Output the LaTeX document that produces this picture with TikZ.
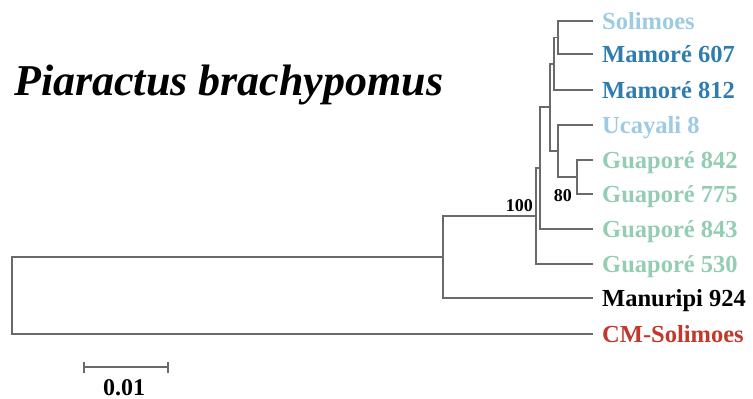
\documentclass[tikz,border=0pt]{standalone}
\usepackage{fontspec}
\setmainfont{Liberation Serif}
\definecolor{lblue}{HTML}{9CCBE3}
\definecolor{dblue}{HTML}{2E7DAE}
\definecolor{lgreen}{HTML}{94CDB3}
\definecolor{cmred}{HTML}{C0392B}
\definecolor{branch}{HTML}{6A6A6A}
\begin{document}
\begin{tikzpicture}[x=1pt,y=-1pt,
  br/.style={draw=branch,line width=1.5pt,line cap=rect},
  leaf/.style={anchor=base west,inner sep=0pt,font=\fontsize{24.5}{24.5}\selectfont\bfseries},
  boot/.style={anchor=base east,inner sep=0pt,font=\fontsize{18}{18}\selectfont\bfseries}]
\useasboundingbox (0,0) rectangle (753,399);
% tips
\coordinate (tSol) at (592,21);
\coordinate (tM607) at (592,54);
\coordinate (tM812) at (592,90);
\coordinate (tUca) at (592,125);
\coordinate (tG842) at (592,160);
\coordinate (tG775) at (592,194);
\coordinate (tG843) at (592,229);
\coordinate (tG530) at (592,264);
\coordinate (tMan) at (592,298);
\coordinate (tCM) at (592,334);
% internal nodes (x of vertical line, y of midpoint)
\coordinate (nA) at (558,37.5);   % Sol, M607
\coordinate (nB) at (554,64);     % nA, M812
\coordinate (nC) at (577,177);    % G842, G775
\coordinate (nD) at (558,151);    % Uca, nC
\coordinate (nE) at (550,107);    % nB, nD
\coordinate (nF) at (540,168);    % nE, G843
\coordinate (nG) at (536,216);    % nF, G530
\coordinate (nH) at (443,257);    % nG, Manuripi
\coordinate (nR) at (12,295.5);   % nH, CM
% branches
\draw[br] (tSol) -| (nA) |- (tM607);
\draw[br] (nA) -| (nB) |- (tM812);
\draw[br] (tG842) -| (nC) |- (tG775);
\draw[br] (tUca) -| (nD) |- (nC);
\draw[br] (nB) -| (nE) |- (nD);
\draw[br] (nE) -| (nF) |- (tG843);
\draw[br] (nF) -| (nG) |- (tG530);
\draw[br] (nG) -| (nH) |- (tMan);
\draw[br] (nH) -| (nR) |- (tCM);
% labels
\node[leaf,text=lblue] (lSol) at ([xshift=10pt,yshift=-8pt]tSol) {Solimoes};
\node[leaf,text=dblue] (lM607) at ([xshift=10pt,yshift=-8pt]tM607) {Mamoré 607};
\node[leaf,text=dblue] (lM812) at ([xshift=10pt,yshift=-8pt]tM812) {Mamoré 812};
\node[leaf,text=lblue] (lUca) at ([xshift=10pt,yshift=-8pt]tUca) {Ucayali 8};
\node[leaf,text=lgreen] (lG842) at ([xshift=10pt,yshift=-8pt]tG842) {Guaporé 842};
\node[leaf,text=lgreen] (lG775) at ([xshift=10pt,yshift=-8pt]tG775) {Guaporé 775};
\node[leaf,text=lgreen] (lG843) at ([xshift=10pt,yshift=-8pt]tG843) {Guaporé 843};
\node[leaf,text=lgreen] (lG530) at ([xshift=10pt,yshift=-8pt]tG530) {Guaporé 530};
\node[leaf,text=black] (lMan) at ([xshift=10pt,yshift=-8pt]tMan) {Manuripi 924};
\node[leaf,text=cmred] (lCM) at ([xshift=10pt,yshift=-8pt]tCM) {CM-Solimoes};
% bootstrap
\node[boot] (b100) at (533,211) {100};
\node[boot] (b80) at (572,201) {80};
% title
\node[anchor=base west,inner sep=0pt,font=\fontsize{44}{44}\selectfont\bfseries\itshape] (title) at (14,95) {Piaractus brachypomus};
% scale bar
\coordinate (s1) at (84,367);
\coordinate (s2) at (168,367);
\draw[br,line cap=butt] (s1) -- (s2);
\draw[br,line cap=butt] ([yshift=-5.5pt]s1) -- ([yshift=5.5pt]s1);
\draw[br,line cap=butt] ([yshift=-5.5pt]s2) -- ([yshift=5.5pt]s2);
\node[anchor=base,inner sep=0pt,font=\fontsize{24}{24}\selectfont\bfseries] (scl) at (124,395) {0.01};
\end{tikzpicture}
\end{document}
